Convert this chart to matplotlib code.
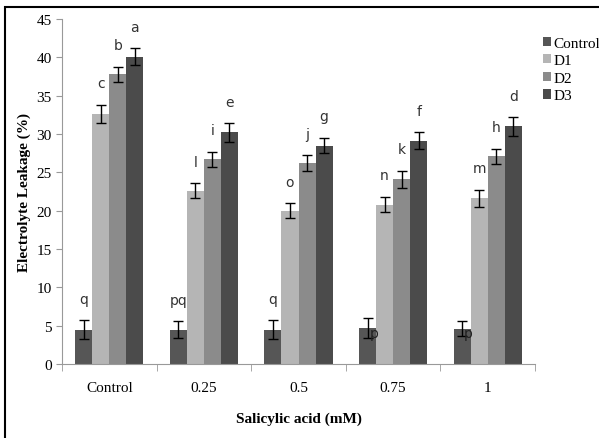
import matplotlib.pyplot as plt
import matplotlib.patches as mpatches
import numpy as np

groups = ["Control", "0.25", "0.5", "0.75", "1"]
series = ["Control", "D1", "D2", "D3"]

control = [4.5, 4.5, 4.5, 4.7, 4.6]
d1 = [32.6, 22.6, 20.0, 20.8, 21.6]
d2 = [37.8, 26.7, 26.2, 24.1, 27.1]
d3 = [40.1, 30.2, 28.5, 29.1, 31.0]

err_control = [1.2, 1.1, 1.2, 1.3, 1.0]
err_d1 = [1.2, 1.0, 1.0, 1.0, 1.1]
err_d2 = [1.0, 1.0, 1.0, 1.1, 1.0]
err_d3 = [1.1, 1.2, 1.0, 1.1, 1.2]

letters_control = ["q", "pq", "q", "p", "p"]
letters_d1 = ["c", "l", "o", "n", "m"]
letters_d2 = ["b", "i", "j", "k", "h"]
letters_d3 = ["a", "e", "g", "f", "d"]

colors = ["#565656", "#b5b5b5", "#8b8b8b", "#4b4b4b"]

values = [control, d1, d2, d3]
errs = [err_control, err_d1, err_d2, err_d3]
letters = [letters_control, letters_d1, letters_d2, letters_d3]

fig = plt.figure(figsize=(5.99, 4.39), dpi=100)
ax = fig.add_axes([62 / 599, 1 - 365 / 439, (535 - 62) / 599, (365 - 20) / 439])

x = np.arange(len(groups))
w = 0.18
for i in range(4):
    pos = x + (i - 1.5) * w
    ax.bar(pos, values[i], width=w, color=colors[i], label=series[i],
           yerr=errs[i], error_kw=dict(ecolor="black", elinewidth=1, capsize=3.5, capthick=1))
    for j in range(len(groups)):
        lab = letters[i][j]
        if i == 0 and j >= 3:
            # 'p' sits on the bar edge beside the error bar
            ax.text(pos[j] + 0.065, values[i][j] - 0.6, lab, ha="center", va="center",
                    fontsize=10, color="#222222")
        else:
            ax.text(pos[j], values[i][j] + errs[i][j] + 2.8, lab, ha="center", va="center",
                    fontsize=10, color="#333333")

ax.set_xlim(-0.5, 4.5)
ax.set_ylim(0, 45)
ax.set_yticks(np.arange(0, 46, 5))
ax.set_xticks(x)
ax.set_xticklabels(groups, fontfamily="Liberation Serif", fontsize=11)
for t in ax.get_yticklabels():
    t.set_fontfamily("Liberation Serif")
    t.set_fontsize(11)
ax.set_xticks(np.arange(-0.5, 4.6, 1), minor=True)
ax.tick_params(axis="x", which="major", length=0, pad=12)
ax.tick_params(axis="x", which="minor", length=5, color="#999999", direction="out")
ax.tick_params(axis="y", length=4, color="#999999", direction="out")
for s in ["top", "right"]:
    ax.spines[s].set_visible(False)
for s in ["left", "bottom"]:
    ax.spines[s].set_color("#999999")

ax.set_xlabel("Salicylic acid (mM)", fontfamily="Liberation Serif", fontweight="bold", fontsize=11, labelpad=13)
ax.set_ylabel("Electrolyte Leakage (%)", fontfamily="Liberation Serif", fontweight="bold", fontsize=11, labelpad=4)

ax.legend(loc="upper left", bbox_to_anchor=(535 / 599, 1 - 30 / 439), bbox_transform=fig.transFigure,
          frameon=False, prop={"family": "Liberation Serif", "size": 11},
          handlelength=0.55, handleheight=0.55, handletextpad=0.15, labelspacing=0.3, borderpad=0)

# outer border of the figure (only left and top visible in the reference)
fig.patches.append(mpatches.Rectangle((5 / 599, -0.05), 1, 1.05 - 8 / 439, transform=fig.transFigure,
                                      fill=False, edgecolor="black", linewidth=1.5))

plt.savefig("out.png", dpi=100)
